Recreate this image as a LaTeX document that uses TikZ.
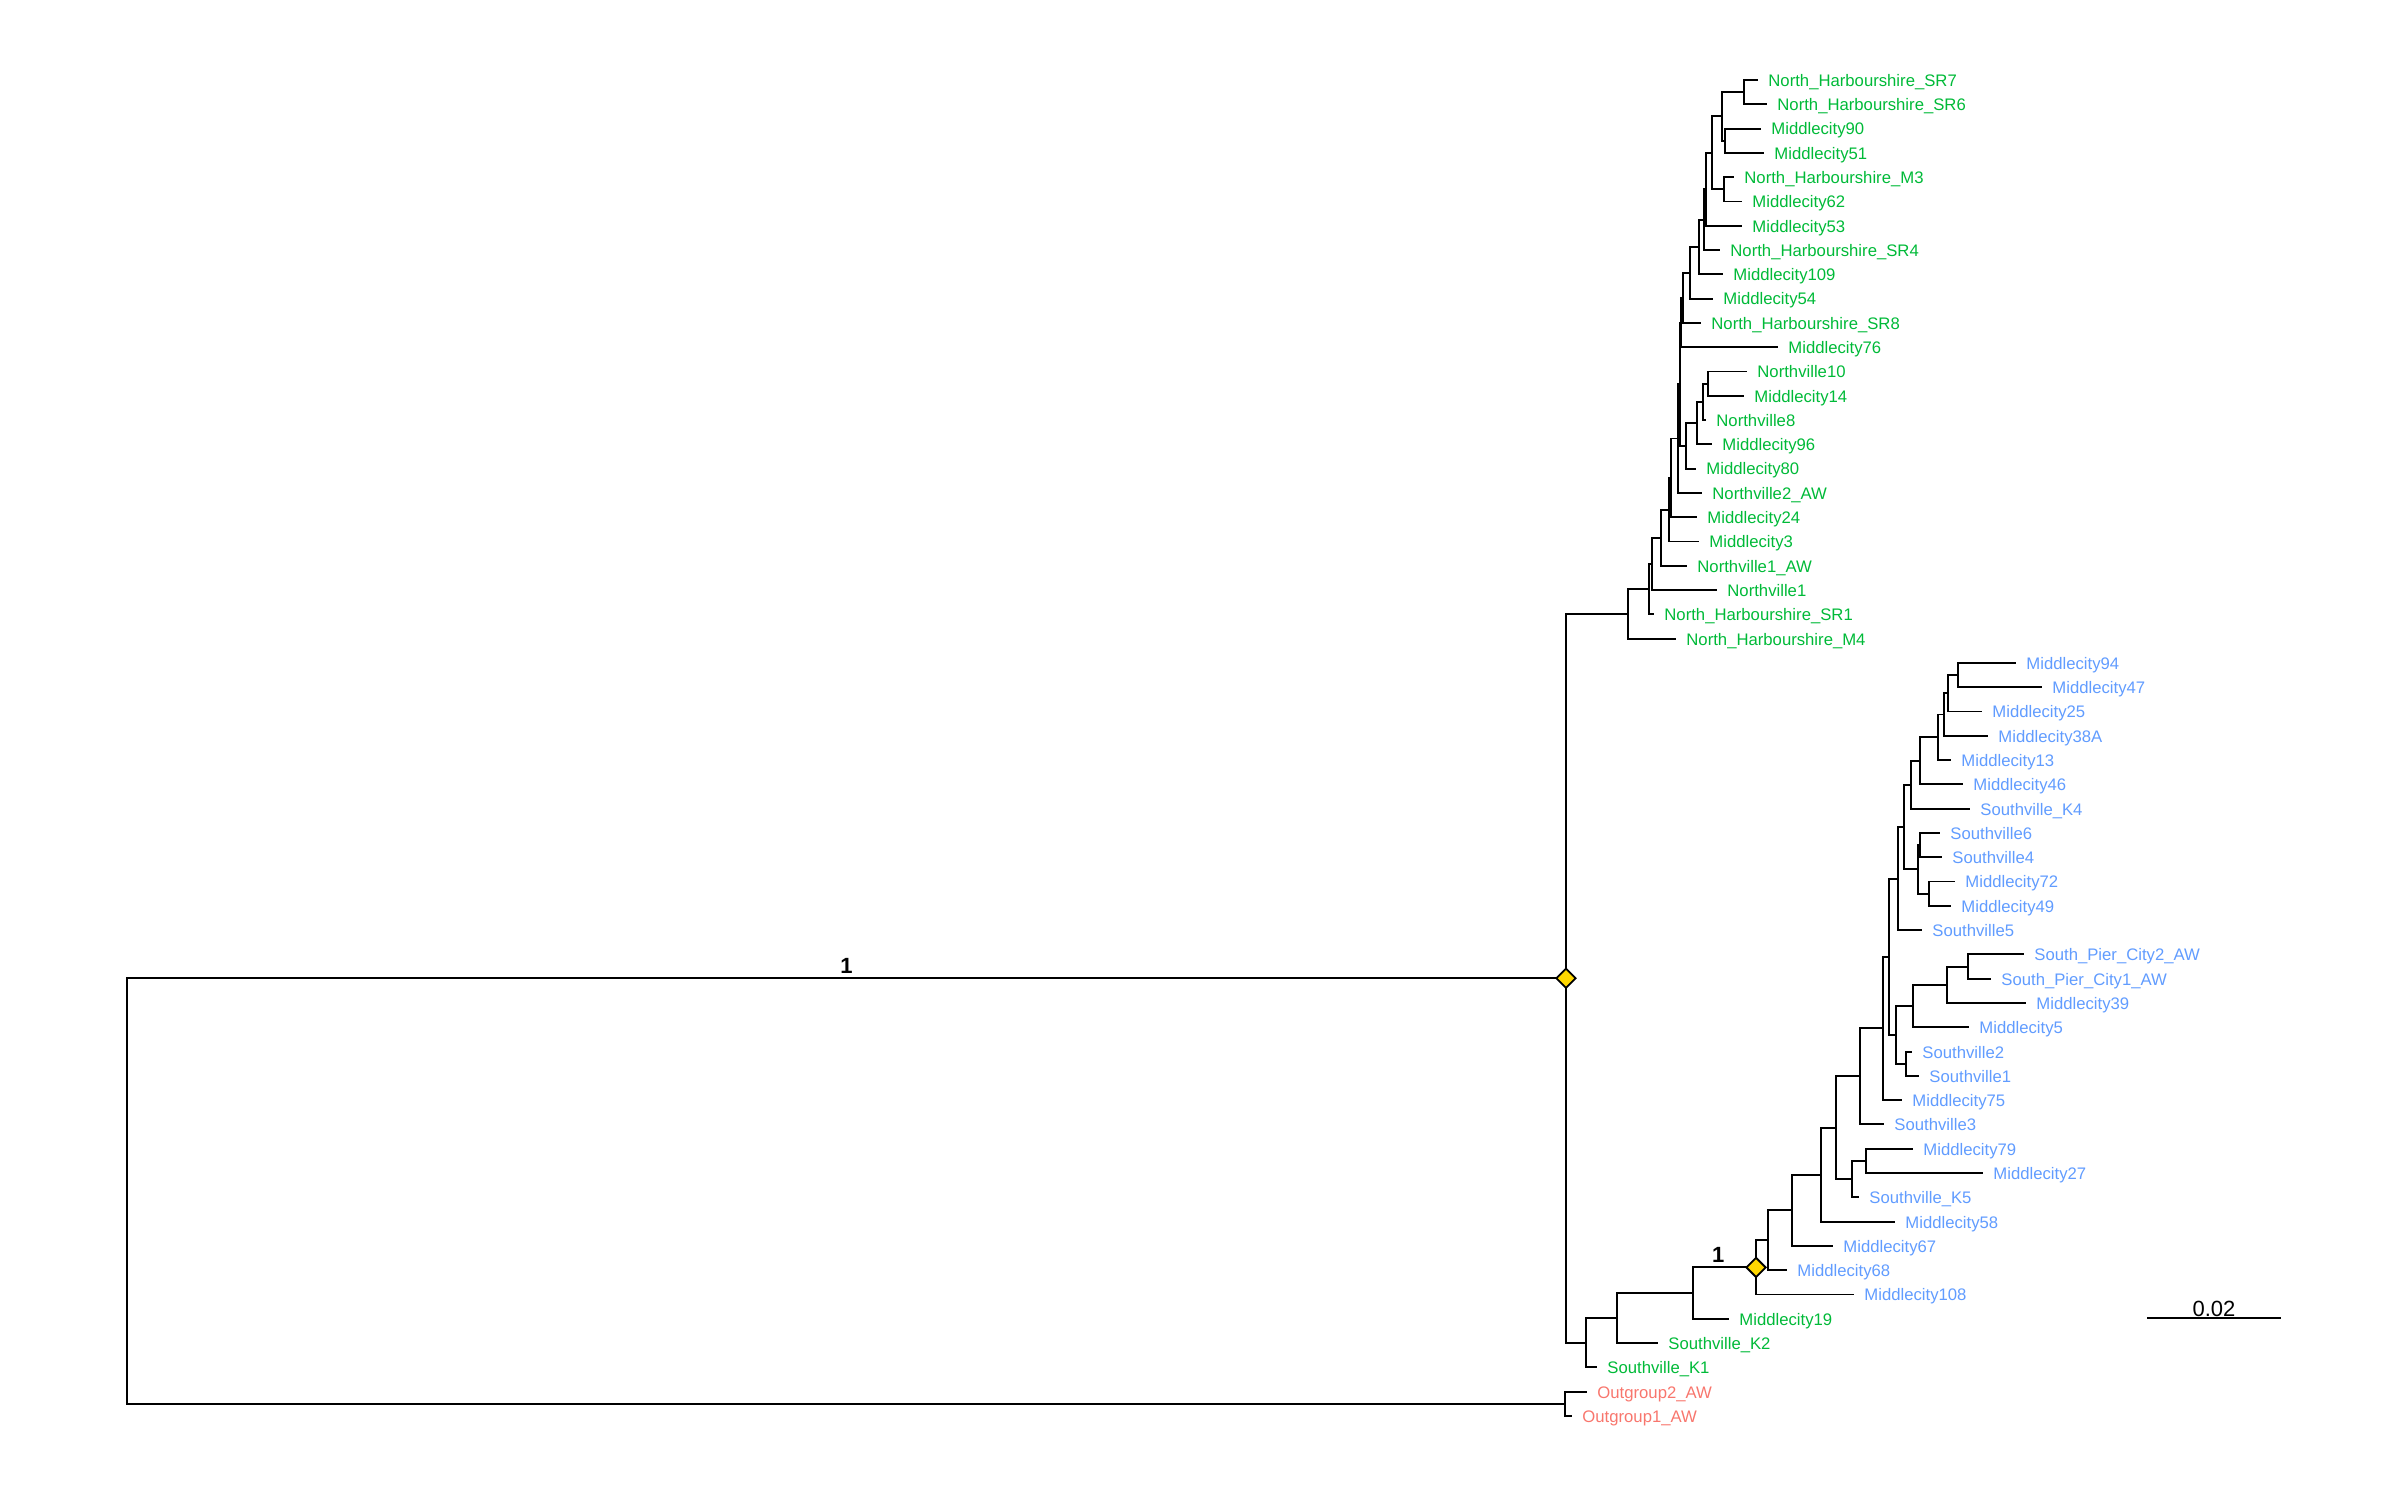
\documentclass[tikz,border=0pt]{standalone}
\usepackage{fontspec}
\setmainfont{Liberation Sans}
\usepackage{tikz}
\usetikzlibrary{shapes.geometric}
\definecolor{cGreen}{HTML}{00BA38}
\definecolor{cBlue}{HTML}{619CFF}
\definecolor{cRed}{HTML}{F8766D}
\definecolor{cGold}{HTML}{FFD700}

\begin{document}
\begin{tikzpicture}[x=0.5pt, y=-0.5pt]
               \tikzstyle{myBranch}=[draw, line width=0.95pt]
               \tikzstyle{myLeaf}=[anchor=west, inner xsep=5pt, inner ysep=0pt, text height=6.4pt, text depth=0pt, font=\fontsize{8.35}{10}\selectfont]
               \tikzstyle{myGreen}=[myLeaf, text=cGreen]
               \tikzstyle{myBlue}=[myLeaf, text=cBlue]
               \tikzstyle{myRed}=[myLeaf, text=cRed]
               \tikzstyle{myDiam}=[diamond, draw, fill=cGold, line width=0.9pt, inner sep=0pt, minimum width=10pt, minimum height=10pt]
               \tikzstyle{myBoot}=[anchor=south, inner sep=2pt, text depth=0pt, font=\fontsize{11}{13}\selectfont\bfseries]

               \useasboundingbox (0,0) rectangle (2402,1502);

               % leaves, top clade
               \node[myGreen] (sr7) at (1758,80.0) {North\_Harbourshire\_SR7};
               \node[myGreen] (sr6) at (1767,104.3) {North\_Harbourshire\_SR6};
               \node[myGreen] (m90) at (1761,128.6) {Middlecity90};
               \node[myGreen] (m51) at (1764,152.9) {Middlecity51};
               \node[myGreen] (nhm3) at (1734,177.2) {North\_Harbourshire\_M3};
               \node[myGreen] (m62) at (1742,201.5) {Middlecity62};
               \node[myGreen] (m53) at (1742,225.7) {Middlecity53};
               \node[myGreen] (sr4) at (1720,250.0) {North\_Harbourshire\_SR4};
               \node[myGreen] (m109) at (1723,274.3) {Middlecity109};
               \node[myGreen] (m54) at (1713,298.6) {Middlecity54};
               \node[myGreen] (sr8) at (1701,322.9) {North\_Harbourshire\_SR8};
               \node[myGreen] (m76) at (1778,347.2) {Middlecity76};
               \node[myGreen] (nv10) at (1747,371.5) {Northville10};
               \node[myGreen] (m14) at (1744,395.8) {Middlecity14};
               \node[myGreen] (nv8) at (1706,420.1) {Northville8};
               \node[myGreen] (m96) at (1712,444.4) {Middlecity96};
               \node[myGreen] (m80) at (1696,468.6) {Middlecity80};
               \node[myGreen] (nv2) at (1702,492.9) {Northville2\_AW};
               \node[myGreen] (m24) at (1697,517.2) {Middlecity24};
               \node[myGreen] (m3) at (1699,541.5) {Middlecity3};
               \node[myGreen] (nv1aw) at (1687,565.8) {Northville1\_AW};
               \node[myGreen] (nv1) at (1717,590.1) {Northville1};
               \node[myGreen] (sr1) at (1654,614.4) {North\_Harbourshire\_SR1};
               \node[myGreen] (nhm4) at (1676,638.7) {North\_Harbourshire\_M4};

               % leaves, bottom clade
               \node[myBlue] (m94) at (2016,662.9) {Middlecity94};
               \node[myBlue] (m47) at (2042,687.2) {Middlecity47};
               \node[myBlue] (m25) at (1982,711.5) {Middlecity25};
               \node[myBlue] (m38a) at (1988,735.8) {Middlecity38A};
               \node[myBlue] (m13) at (1951,760.1) {Middlecity13};
               \node[myBlue] (m46) at (1963,784.4) {Middlecity46};
               \node[myBlue] (sk4) at (1970,808.7) {Southville\_K4};
               \node[myBlue] (sv6) at (1940,833.0) {Southville6};
               \node[myBlue] (sv4) at (1942,857.3) {Southville4};
               \node[myBlue] (m72) at (1955,881.5) {Middlecity72};
               \node[myBlue] (m49) at (1951,905.8) {Middlecity49};
               \node[myBlue] (sv5) at (1922,930.1) {Southville5};
               \node[myBlue] (spc2) at (2024,954.4) {South\_Pier\_City2\_AW};
               \node[myBlue] (spc1) at (1991,978.7) {South\_Pier\_City1\_AW};
               \node[myBlue] (m39) at (2026,1003.0) {Middlecity39};
               \node[myBlue] (m5) at (1969,1027.3) {Middlecity5};
               \node[myBlue] (sv2) at (1912,1051.6) {Southville2};
               \node[myBlue] (sv1) at (1919,1075.8) {Southville1};
               \node[myBlue] (m75) at (1902,1100.1) {Middlecity75};
               \node[myBlue] (sv3) at (1884,1124.4) {Southville3};
               \node[myBlue] (m79) at (1913,1148.7) {Middlecity79};
               \node[myBlue] (m27) at (1983,1173.0) {Middlecity27};
               \node[myBlue] (sk5) at (1859,1197.3) {Southville\_K5};
               \node[myBlue] (m58) at (1895,1221.6) {Middlecity58};
               \node[myBlue] (m67) at (1833,1245.9) {Middlecity67};
               \node[myBlue] (m68) at (1787,1270.2) {Middlecity68};
               \node[myBlue] (m108) at (1854,1294.5) {Middlecity108};
               \node[myGreen] (m19) at (1729,1318.7) {Middlecity19};
               \node[myGreen] (sk2) at (1658,1343.0) {Southville\_K2};
               \node[myGreen] (sk1) at (1597,1367.3) {Southville\_K1};
               \node[myRed] (og2) at (1587,1391.6) {Outgroup2\_AW};
               \node[myRed] (og1) at (1572,1415.9) {Outgroup1\_AW};

               % inner nodes, top clade
               \coordinate (a1) at (1744,92.15);
               \coordinate (a2) at (1725,140.75);
               \coordinate (a) at (1722,116.45);
               \coordinate (b1) at (1724,189.35);
               \coordinate (b) at (1712,152.9);
               \coordinate (c) at (1706,189.3);
               \coordinate (d) at (1704,219.65);
               \coordinate (e) at (1699,246.98);
               \coordinate (f) at (1690,272.79);
               \coordinate (g) at (1683,297.85);
               \coordinate (h) at (1681,322.5);
               \coordinate (i1) at (1708,383.65);
               \coordinate (i) at (1703,401.88);
               \coordinate (j) at (1697,423.14);
               \coordinate (k) at (1686,445.87);
               \coordinate (l) at (1680,384.19);
               \coordinate (m) at (1678,438.55);
               \coordinate (n) at (1671,477.87);
               \coordinate (o) at (1669,509.69);
               \coordinate (p) at (1661,537.74);
               \coordinate (q) at (1652,563.92);
               \coordinate (r) at (1649,589.16);
               \coordinate (s) at (1628,613.93);

               % inner nodes, bottom clade
               \coordinate (as) at (1958,675.05);
               \coordinate (ar) at (1948,693.28);
               \coordinate (aq) at (1944,714.54);
               \coordinate (ap) at (1938,737.32);
               \coordinate (ao) at (1920,760.86);
               \coordinate (ak) at (1911,784.78);
               \coordinate (am) at (1920,845.15);
               \coordinate (an) at (1929,893.65);
               \coordinate (al) at (1918,869.4);
               \coordinate (aj) at (1904,827.09);
               \coordinate (ai) at (1898,878.6);
               \coordinate (aw) at (1968,966.55);
               \coordinate (av) at (1947,984.78);
               \coordinate (at) at (1913,1006.04);
               \coordinate (au) at (1906,1063.7);
               \coordinate (ah) at (1896,1034.87);
               \coordinate (ag) at (1889,956.74);
               \coordinate (af) at (1883,1028.42);
               \coordinate (ac) at (1860,1076.41);
               \coordinate (ae) at (1866,1160.85);
               \coordinate (ad) at (1852,1179.08);
               \coordinate (ab) at (1836,1127.75);
               \coordinate (aa) at (1821,1174.68);
               \coordinate (z) at (1792,1210.29);
               \coordinate (y) at (1768,1240.25);
               \coordinate (w) at (1756,1267.38);
               \coordinate (v) at (1693,1293.04);
               \coordinate (u) at (1617,1318.02);
               \coordinate (t) at (1586,1342.66);
               \coordinate (x) at (1566,978.3);
               \coordinate (og) at (1565,1403.75);
               \coordinate (root) at (127,1191);

               % branches, top clade
               \draw[myBranch] (a1) |- (sr7.west) (a1) |- (sr6.west);
               \draw[myBranch] (a2) |- (m90.west) (a2) |- (m51.west);
               \draw[myBranch] (a) |- (a1) (a) |- (a2);
               \draw[myBranch] (b1) |- (nhm3.west) (b1) |- (m62.west);
               \draw[myBranch] (b) |- (a) (b) |- (b1);
               \draw[myBranch] (c) |- (b) (c) |- (m53.west);
               \draw[myBranch] (d) |- (c) (d) |- (sr4.west);
               \draw[myBranch] (e) |- (d) (e) |- (m109.west);
               \draw[myBranch] (f) |- (e) (f) |- (m54.west);
               \draw[myBranch] (g) |- (f) (g) |- (sr8.west);
               \draw[myBranch] (h) |- (g) (h) |- (m76.west);
               \draw[myBranch] (i1) |- (nv10.west) (i1) |- (m14.west);
               \draw[myBranch] (i) |- (i1) (i) |- (nv8.west);
               \draw[myBranch] (j) |- (i) (j) |- (m96.west);
               \draw[myBranch] (k) |- (j) (k) |- (m80.west);
               \draw[myBranch] (l) |- (h) (l) |- (k);
               \draw[myBranch] (m) |- (l) (m) |- (nv2.west);
               \draw[myBranch] (n) |- (m) (n) |- (m24.west);
               \draw[myBranch] (o) |- (n) (o) |- (m3.west);
               \draw[myBranch] (p) |- (o) (p) |- (nv1aw.west);
               \draw[myBranch] (q) |- (p) (q) |- (nv1.west);
               \draw[myBranch] (r) |- (q) (r) |- (sr1.west);
               \draw[myBranch] (s) |- (r) (s) |- (nhm4.west);

               % branches, bottom clade
               \draw[myBranch] (as) |- (m94.west) (as) |- (m47.west);
               \draw[myBranch] (ar) |- (as) (ar) |- (m25.west);
               \draw[myBranch] (aq) |- (ar) (aq) |- (m38a.west);
               \draw[myBranch] (ap) |- (aq) (ap) |- (m13.west);
               \draw[myBranch] (ao) |- (ap) (ao) |- (m46.west);
               \draw[myBranch] (ak) |- (ao) (ak) |- (sk4.west);
               \draw[myBranch] (am) |- (sv6.west) (am) |- (sv4.west);
               \draw[myBranch] (an) |- (m72.west) (an) |- (m49.west);
               \draw[myBranch] (al) |- (am) (al) |- (an);
               \draw[myBranch] (aj) |- (ak) (aj) |- (al);
               \draw[myBranch] (ai) |- (aj) (ai) |- (sv5.west);
               \draw[myBranch] (aw) |- (spc2.west) (aw) |- (spc1.west);
               \draw[myBranch] (av) |- (aw) (av) |- (m39.west);
               \draw[myBranch] (at) |- (av) (at) |- (m5.west);
               \draw[myBranch] (au) |- (sv2.west) (au) |- (sv1.west);
               \draw[myBranch] (ah) |- (at) (ah) |- (au);
               \draw[myBranch] (ag) |- (ai) (ag) |- (ah);
               \draw[myBranch] (af) |- (ag) (af) |- (m75.west);
               \draw[myBranch] (ac) |- (af) (ac) |- (sv3.west);
               \draw[myBranch] (ae) |- (m79.west) (ae) |- (m27.west);
               \draw[myBranch] (ad) |- (ae) (ad) |- (sk5.west);
               \draw[myBranch] (ab) |- (ac) (ab) |- (ad);
               \draw[myBranch] (aa) |- (ab) (aa) |- (m58.west);
               \draw[myBranch] (z) |- (aa) (z) |- (m67.west);
               \draw[myBranch] (y) |- (z) (y) |- (m68.west);
               \draw[myBranch] (w) |- (y) (w) |- (m108.west);
               \draw[myBranch] (v) |- node[myBoot, pos=0.7] {1} (w) (v) |- (m19.west);
               \draw[myBranch] (u) |- (v) (u) |- (sk2.west);
               \draw[myBranch] (t) |- (u) (t) |- (sk1.west);
               \draw[myBranch] (x) |- (s) (x) |- (t);
               \draw[myBranch] (og) |- (og2.west) (og) |- (og1.west);
               \draw[myBranch] (root) |- node[myBoot, pos=0.75] {1} (x) (root) |- (og);

               % supported nodes
               \node[myDiam] (dx) at (x) {};
               \node[myDiam] (dw) at (w) {};

               % scale bar
               \coordinate (barL) at (2147,1318);
               \coordinate (barR) at (2281,1318);
               \draw[myBranch] (barL) -- node[anchor=south, inner sep=0.5pt, text depth=0pt, font=\fontsize{11}{13}\selectfont] {0.02} (barR);
            \end{tikzpicture}
\end{document}
